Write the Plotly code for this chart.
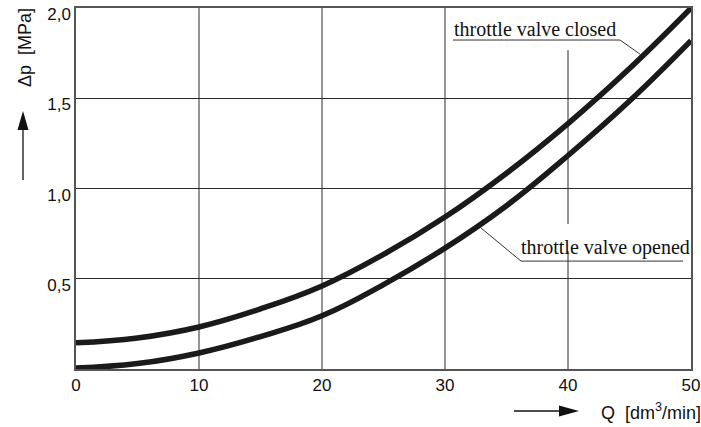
import plotly.graph_objects as go

Q = [0, 5, 10, 15, 20, 25, 30, 35, 40, 45, 50]
dp_closed = [0.145, 0.172, 0.233, 0.333, 0.46, 0.635, 0.842, 1.085, 1.36, 1.665, 2.0]
dp_opened = [0.005, 0.03, 0.089, 0.18, 0.295, 0.468, 0.67, 0.905, 1.183, 1.485, 1.82]

x_ticks = [0, 10, 20, 30, 40, 50]
x_tick_text = ["0", "10", "20", "30", "40", "50"]
y_ticks = [0.5, 1.0, 1.5, 2.0]
y_tick_text = ["0,5", "1,0", "1,5", "2,0"]

label_closed = "throttle valve closed"
label_opened = "throttle valve opened"

W, H = 701, 427
ml, mr, mt, mb = 76, 10, 8, 58
pw, ph = W - ml - mr, H - mt - mb

def px(xp):
    return (xp - ml) / pw

def py(yp):
    return (H - mb - yp) / ph

fig = go.Figure()
for ys in (dp_closed, dp_opened):
    fig.add_trace(go.Scatter(x=Q, y=ys, mode="lines",
                             line=dict(color="#1a1a1a", width=5.5, shape="spline", smoothing=1.2),
                             hoverinfo="skip", showlegend=False))

grid_col = "#2a2a2a"
shapes = []
for xv in [10, 20, 30]:
    shapes.append(dict(type="line", xref="x", yref="y", x0=xv, x1=xv, y0=0, y1=2.0,
                       line=dict(color=grid_col, width=1), layer="below"))
# Q=40 grid line, interrupted by the labels
for y0, y1 in [(1.767, 0.803), (0.654, 0.0)]:
    shapes.append(dict(type="line", xref="x", yref="y", x0=40, x1=40, y0=y0, y1=y1,
                       line=dict(color=grid_col, width=1), layer="below"))
# leader lines
shapes.append(dict(type="path", xref="x", yref="y",
                   path="M 30.65,1.823 L 44.23,1.823 L 45.85,1.745",
                   line=dict(color="#333", width=1)))
shapes.append(dict(type="path", xref="x", yref="y",
                   path="M 49.35,0.598 L 36.18,0.598 L 32.93,0.781",
                   line=dict(color="#333", width=1)))
# y-axis arrow
shapes.append(dict(type="line", xref="paper", yref="paper",
                   x0=px(23), x1=px(23), y0=py(180), y1=py(125),
                   line=dict(color="#111", width=1.3)))
shapes.append(dict(type="path", xref="paper", yref="paper",
                   path=f"M {px(17.5)},{py(130)} L {px(28.5)},{py(130)} L {px(23)},{py(111)} Z",
                   fillcolor="#111", line=dict(color="#111", width=0)))
# x-axis arrow
shapes.append(dict(type="line", xref="paper", yref="paper",
                   x0=px(514), x1=px(565), y0=py(411), y1=py(411),
                   line=dict(color="#111", width=1.3)))
shapes.append(dict(type="path", xref="paper", yref="paper",
                   path=f"M {px(559)},{py(405.5)} L {px(559)},{py(416.5)} L {px(579)},{py(411)} Z",
                   fillcolor="#111", line=dict(color="#111", width=0)))

sans = "Liberation Sans, Arial, sans-serif"
serif = "Liberation Serif, Times New Roman, serif"

annotations = [
    dict(text=label_closed, xref="x", yref="y", x=30.55, y=1.885, xanchor="left", yanchor="middle",
         showarrow=False, font=dict(family=serif, size=20, color="#111")),
    dict(text=label_opened, xref="x", yref="y", x=36.05, y=0.675, xanchor="left", yanchor="middle",
         showarrow=False, font=dict(family=serif, size=20, color="#111")),
    dict(text="Δp  [MPa]", xref="paper", yref="paper", x=px(25), y=py(48), textangle=-90,
         xanchor="center", yanchor="middle", showarrow=False,
         font=dict(family=sans, size=18, color="#111")),
    dict(text="Q  [dm<sup>3</sup>/min]", xref="paper", yref="paper", x=px(703), y=py(411),
         xanchor="right", yanchor="middle", showarrow=False,
         font=dict(family=sans, size=18, color="#111")),
]

fig.update_layout(
    width=W, height=H,
    margin=dict(l=ml, r=mr, t=mt, b=mb, autoexpand=False),
    paper_bgcolor="white", plot_bgcolor="white",
    shapes=shapes, annotations=annotations,
    xaxis=dict(range=[0, 50], tickvals=x_ticks, ticktext=x_tick_text, showgrid=False,
               zeroline=False, showline=True, linecolor="#555", linewidth=1.5, mirror=True,
               ticks="", automargin=False, tickfont=dict(family=sans, size=17, color="#111")),
    yaxis=dict(range=[0, 2.0005], tickvals=y_ticks, ticktext=y_tick_text, showgrid=True,
               gridcolor=grid_col, gridwidth=1, zeroline=False, showline=True,
               linecolor="#555", linewidth=1.5, mirror=True, ticks="",
               ticklabelshift=6, ticklabeloverflow="allow", automargin=False,
               tickfont=dict(family=sans, size=17, color="#111")),
)

fig.write_html("out.html")
